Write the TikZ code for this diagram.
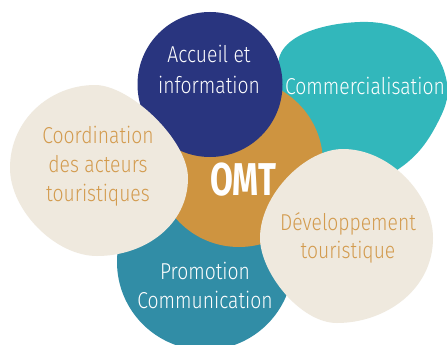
\documentclass[tikz,border=0pt]{standalone}
\usepackage{fontspec}
\newfontfamily\labfont[FakeStretch=0.84]{Fira Sans Light}
\newfontfamily\omtfont[FakeStretch=0.72]{Fira Sans}
\definecolor{cnavy}{HTML}{29357F}
\definecolor{cteal}{HTML}{32B7BB}
\definecolor{cochre}{HTML}{CE9440}
\definecolor{ccream}{HTML}{EFE9DE}
\definecolor{cpetrol}{HTML}{318DA6}
\definecolor{cotext}{HTML}{D39B4E}
\begin{document}
\begin{tikzpicture}[x=1pt,y=-1pt,
  lab/.style={anchor=base,inner sep=0pt,font=\labfont\fontsize{23}{29}\selectfont},
  labw/.style={lab,text=white},
  labo/.style={lab,text=cotext}]
\useasboundingbox (0,0) rectangle (447,345);
\fill[white] (0,0) rectangle (447,345);
% teal blob
\fill[cteal] plot[smooth cycle,tension=0.7] coordinates {(290,42) (360,22) (418,38) (446,78) (438,122) (400,168) (340,190) (290,150) (278,90)};
% promotion blob
\fill[cpetrol] (205,262) circle (88);
% orange circle
\fill[cochre] (239,163) circle (84);
% navy circle
\fill[cnavy] (210,84.5) circle (72.5);
% cream left
\fill[ccream] (10,168) .. controls (10,120) and (50,85) .. (95,85)
  .. controls (130,85) and (188,140) .. (188,178)
  .. controls (188,225) and (145,256) .. (97,256)
  .. controls (55,256) and (10,210) .. (10,168) -- cycle;
% cream right
\fill[ccream] (260,238) .. controls (260,195) and (305,149) .. (343,149)
  .. controls (390,149) and (433,195) .. (433,238)
  .. controls (433,290) and (385,323) .. (337,323)
  .. controls (300,323) and (260,272) .. (260,238) -- cycle;
% labels
\node[labw] (acc1) at (209,63) {Accueil et};
\node[labw] (acc2) at (209,93) {information};
\node[labw] (com) at (365,95) {Commercialisation};
\node[labo] (coo1) at (98,143) {Coordination};
\node[labo] (coo2) at (98,172) {des acteurs};
\node[labo] (coo3) at (98,201) {touristiques};
\node[labo] (dev1) at (348,230) {Développement};
\node[labo] (dev2) at (348,258) {touristique};
\node[labw] (pro1) at (205,279) {Promotion};
\node[labw] (pro2) at (205,308) {Communication};
\node[anchor=base,inner sep=0pt,text=white,font=\omtfont\bfseries\fontsize{46}{46}\selectfont] (omt) at (243,195) {OMT};
\end{tikzpicture}
\end{document}
